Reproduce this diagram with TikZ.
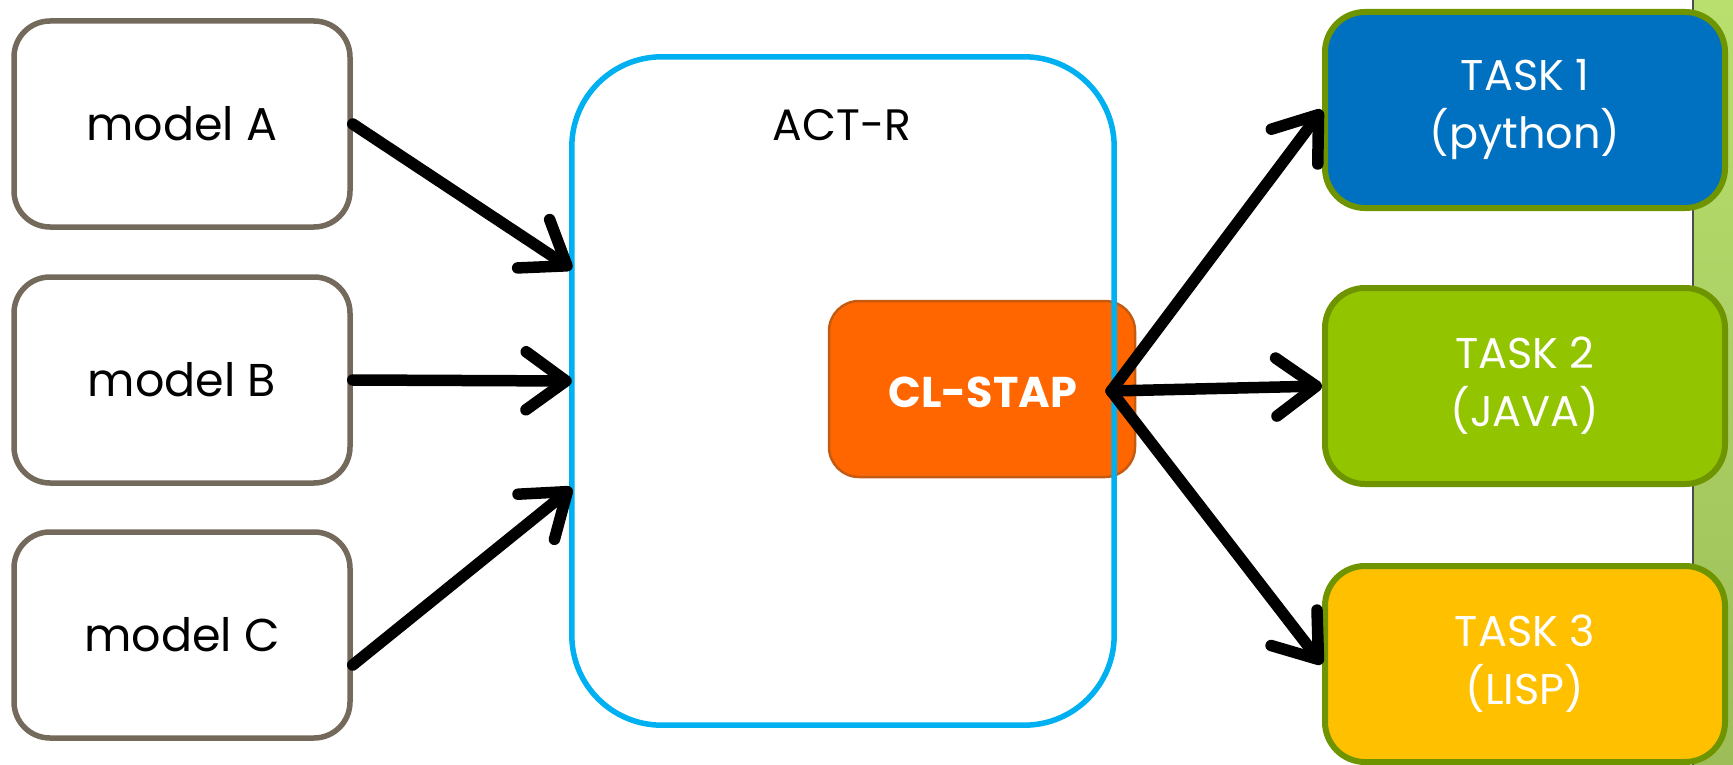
\documentclass[tikz,border=0pt]{standalone}
\usepackage{fontspec}
\setmainfont{Poppins}
\usetikzlibrary{arrows.meta,positioning}
\definecolor{modelline}{HTML}{746A5C}
\definecolor{actline}{HTML}{00B0F0}
\definecolor{clfill}{HTML}{FF6600}
\definecolor{clline}{HTML}{C55A11}
\definecolor{taskline}{HTML}{6E9400}
\definecolor{taskblue}{HTML}{0070C0}
\definecolor{taskgreen}{HTML}{92C500}
\definecolor{taskyellow}{HTML}{FFC000}
\definecolor{bartop}{HTML}{B9E06E}
\definecolor{barbot}{HTML}{9CBD58}
\tikzset{
  x=1pt, y=-1pt,
  modelbox/.style={draw=modelline, line width=5.5pt, fill=white, rounded corners=36pt,
    minimum width=336pt, minimum height=206pt, font=\fontsize{46}{50}\selectfont},
  taskbox/.style={draw=taskline, line width=6pt, rounded corners=40pt,
    minimum width=400pt, minimum height=196pt, align=center, text=white,
    font=\fontsize{43}{58}\selectfont},
  flow/.style={line width=11.5pt, line cap=round,
    -{Straight Barb[length=40pt,width=58pt,round]}},
}
\begin{document}
\begin{tikzpicture}
\useasboundingbox (0,0) rectangle (1733,765);
% side bar
\shade[top color=bartop, bottom color=barbot] (1693,0) rectangle (1733,765);
\draw[line width=2pt, black!70] (1693,0) -- (1693,765);

% inputs
\node[modelbox] (ma) at (182,124) {model A};
\node[modelbox] (mb) at (182,380) {model B};
\node[modelbox] (mc) at (182,635) {model C};

% ACT-R container
\node[fill=white, rounded corners=90pt, minimum width=542pt, minimum height=668pt] (act) at (843,391) {};
\node[font=\fontsize{44}{48}\selectfont] (actlbl) at (842,125) {ACT-R};
\node[draw=clline, line width=2.5pt, fill=clfill, rounded corners=30pt,
      minimum width=306pt, minimum height=176pt] (cl) at (982,389) {};
\node[text=white, font=\bfseries\fontsize{43}{48}\selectfont] (cltxt) at (983,392) {CL-STAP};
\draw[actline, line width=5.5pt, rounded corners=90pt]
  (act.north west) rectangle (act.south east);

% tasks
\node[taskbox, fill=taskblue] (t1) at (1525,110) {TASK 1\\(python)};
\node[taskbox, fill=taskgreen] (t2) at (1525,386) {TASK 2\\(JAVA)};
\node[taskbox, fill=taskyellow] (t3) at (1525,664) {TASK 3\\(LISP)};

% connectors
\draw[flow] (ma.east) -- ([yshift=122pt]act.west);
\draw[flow] (mb.east) -- ([yshift=10pt]act.west);
\draw[flow] ([yshift=-30pt]mc.east) -- ([yshift=-97pt]act.west);
\draw[flow] ([xshift=-3pt]act.east) -- (t1.west);
\draw[flow] ([xshift=-3pt]act.east) -- (t2.west);
\draw[flow] ([xshift=-3pt]act.east) -- (t3.west);
\end{tikzpicture}
\end{document}
